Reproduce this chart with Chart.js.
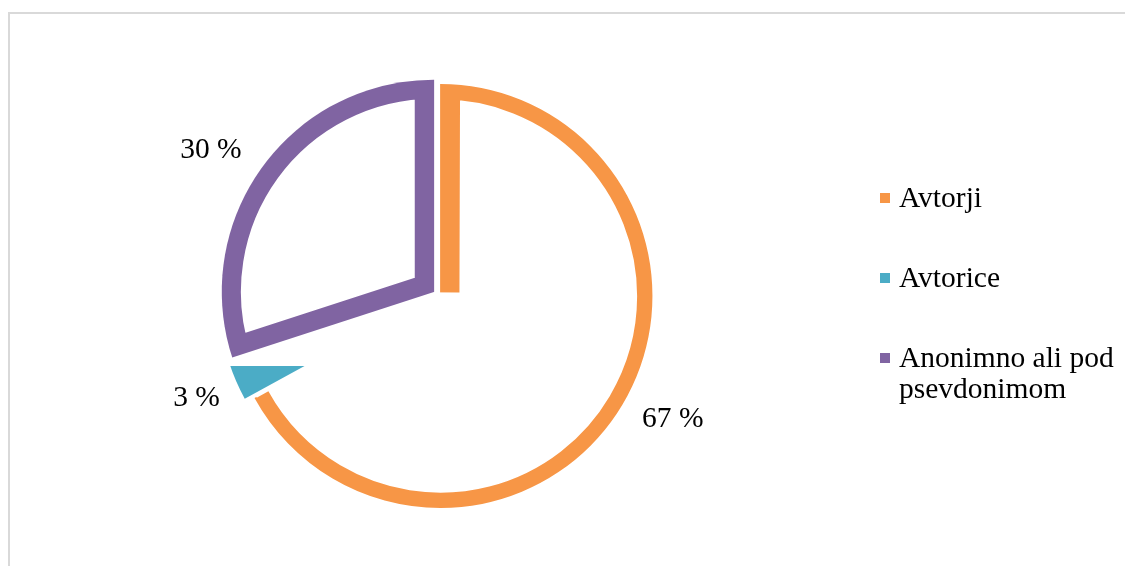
<!DOCTYPE html>
<html>
<head>
<meta charset="utf-8">
<script src="https://cdn.jsdelivr.net/npm/chart.js@4"></script>
<style>
  html, body { margin: 0; padding: 0; background: #fff; }
  body { width: 1125px; height: 566px; position: relative; overflow: hidden; }
  #frame { position: absolute; left: 8px; top: 12px; width: 1140px; height: 580px; border: 2px solid #d9d9d9; box-sizing: border-box; }
  #wrap { position: absolute; left: 0; top: 0; width: 1125px; height: 566px; }
  #legend { position: absolute; left: 880px; top: 182px; margin: 0; padding: 0; list-style: none;
            font-family: "Liberation Serif", "Times New Roman", serif; font-size: 29.5px; line-height: 31px; color: #000; }
  #legend li { display: flex; align-items: flex-start; height: 80px; }
  #legend .sw { width: 10px; height: 10px; margin-top: 11px; margin-right: 9px; flex: none; }
  #legend .tx { width: 232px; }
</style>
</head>
<body>
<div id="frame"></div>
<div id="wrap"><canvas id="pie"></canvas></div>
<ul id="legend"></ul>
<script>
const labels = ['Avtorji', 'Avtorice', 'Anonimno ali pod psevdonimom'];
const shares = [67, 3, 30];
const colors = ['#F79646', '#4BACC6', '#8064A2'];
const labelGap = [55, 50, 56];      // distance of each % label beyond the rim
const labelTurn = [-2.6, 0, -3.5];  // small angular nudge of each label, degrees

const RADIUS = 212, OFFSET = 16, RING = 19;

// legend
const ul = document.getElementById('legend');
labels.forEach((l, i) => {
  const li = document.createElement('li');
  li.innerHTML = '<span class="sw" style="background:' + colors[i] + '"></span><span class="tx">' + l + '</span>';
  ul.appendChild(li);
});

// small slice is only painted below a horizontal cut, like the original
function smallFill(chart) {
  const a = chart.chartArea;
  if (!a) return colors[1];
  const cy = (a.top + a.bottom) / 2;
  const g = chart.ctx.createLinearGradient(0, cy, 0, cy + 300);
  g.addColorStop(0, '#ffffff');
  g.addColorStop(70 / 300, '#ffffff');
  g.addColorStop(70 / 300, colors[1]);
  g.addColorStop(1, colors[1]);
  return g;
}

// the big slice has no outline on its closing edge: dash it away
function bigDash() {
  const total = shares.reduce((a, b) => a + b, 0);
  const r = RADIUS + OFFSET / 4 - 0.33;
  const arcLen = r * 2 * Math.PI * shares[0] / total;
  return [arcLen + 4, r - 2, r + 50];
}

const pctLabels = {
  id: 'pctLabels',
  afterDatasetsDraw(chart) {
    const ctx = chart.ctx;
    const meta = chart.getDatasetMeta(0);
    ctx.save();
    ctx.font = '29.5px "Liberation Serif", "Times New Roman", serif';
    ctx.fillStyle = '#000';
    ctx.textAlign = 'center';
    ctx.textBaseline = 'middle';
    meta.data.forEach((arc, i) => {
      const p = arc.getProps(['x', 'y', 'startAngle', 'endAngle', 'outerRadius'], true);
      const mid = (p.startAngle + p.endAngle) / 2 + labelTurn[i] * Math.PI / 180;
      const r = p.outerRadius + labelGap[i];
      ctx.fillText(shares[i] + ' %', p.x + Math.cos(mid) * r, p.y + Math.sin(mid) * r);
    });
    ctx.restore();
  }
};

new Chart(document.getElementById('pie'), {
  type: 'pie',
  data: {
    labels: labels,
    datasets: [{
      data: shares,
      backgroundColor: c => c.dataIndex === 1 ? smallFill(c.chart) : '#ffffff',
      borderColor: colors,
      borderWidth: [RING, 0, RING],
      borderAlign: 'inner',
      borderDash: c => c.dataIndex === 0 ? bigDash() : [],
      offset: OFFSET,
      hoverOffset: 0,
      radius: RADIUS
    }]
  },
  options: {
    responsive: true,
    maintainAspectRatio: false,
    animation: false,
    layout: { padding: { left: 137, right: 388, top: 28, bottom: 6 } },
    plugins: {
      legend: { display: false },
      tooltip: { enabled: false }
    }
  },
  plugins: [pctLabels]
});
</script>
</body>
</html>
